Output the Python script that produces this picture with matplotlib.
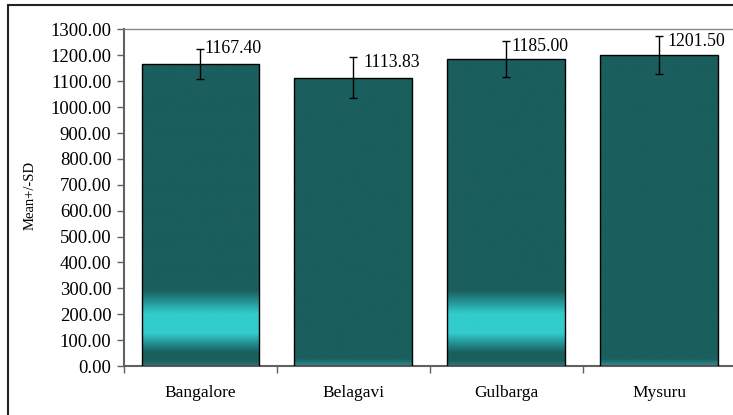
import numpy as np
import matplotlib
matplotlib.use("Agg")
import matplotlib.pyplot as plt
from matplotlib.colors import LinearSegmentedColormap
from matplotlib.patches import Rectangle

plt.rcParams['font.family'] = ['Liberation Serif', 'DejaVu Serif']

# data
regions = ['Bangalore', 'Belagavi', 'Gulbarga', 'Mysuru']
means = [1167.40, 1113.83, 1185.00, 1201.50]
sds = [57, 80, 69, 72]
glow = [True, False, True, False]   # bars with the bright cyan band near the bottom
label_offsets = [(4, 1), (10, -6), (5, -5), (8, -5)]  # pixel nudges for value labels

dark = '#1b5e5e'
mid = '#2a8a8a'
cyan = '#33cccc'

# gradient along the value axis (value, colour)
glow_stops = [(0, '#257777'), (20, dark), (50, dark), (85, '#239191'), (125, cyan),
              (200, cyan), (240, '#279a9a'), (290, dark), (1300, dark)]
plain_stops = [(0, mid), (25, dark), (1300, dark)]


def make_cmap(stops, name):
    top = stops[-1][0]
    return LinearSegmentedColormap.from_list(name, [(v / top, c) for v, c in stops])


fig = plt.figure(figsize=(7.33, 4.15), dpi=100)
ax = fig.add_axes([124 / 733, 1 - 366 / 415, 611.5 / 733, (366 - 29.5) / 415])

x = np.arange(len(regions))
width = 0.77
bars = ax.bar(x, means, width=width, color='none', edgecolor='black', linewidth=1, zorder=3)

for i, b in enumerate(bars):
    stops = glow_stops if glow[i] else plain_stops
    cmap = make_cmap(stops, 'g%d' % i)
    h = means[i]
    vals = np.linspace(0, h, 1024) / stops[-1][0]
    im = ax.imshow(vals.reshape(-1, 1), cmap=cmap, vmin=0, vmax=1, aspect='auto',
                   origin='lower', extent=[b.get_x(), b.get_x() + b.get_width(), 0, h],
                   zorder=2, interpolation='bilinear')
    im.set_clip_path(b)

ax.errorbar(x, means, yerr=sds, fmt='none', ecolor='black', elinewidth=1,
            capsize=3, capthick=1, zorder=4)

for i in range(len(regions)):
    dx, dy = label_offsets[i]
    ax.annotate('%.2f' % means[i], xy=(x[i], means[i] + sds[i]), xytext=(dx, dy),
                textcoords='offset pixels', ha='left', va='center', fontsize=12.8, zorder=5)

ax.set_xlim(-0.5, 3.5)
ax.set_ylim(0, 1300)
ax.set_yticks(np.arange(0, 1301, 100))
ax.set_yticklabels(['%.2f' % v for v in np.arange(0, 1301, 100)], fontsize=13.5)
ax.set_xticks(x)
ax.set_xticklabels(regions, fontsize=12.5)
ax.set_xticks(np.arange(-0.5, 3.6, 1), minor=True)
ax.tick_params(axis='x', which='major', length=0, pad=13.5)
ax.tick_params(axis='x', which='minor', length=5, width=1, color='#606060', direction='out')
ax.tick_params(axis='y', length=5, width=1, color='#606060', direction='out', pad=4)

for s in ['left', 'bottom']:
    ax.spines[s].set_color('#606060')
    ax.spines[s].set_linewidth(1.5)
ax.spines['top'].set_color('#888888')
ax.spines['top'].set_linewidth(1)
ax.spines['right'].set_visible(False)

fig.text(30 / 733, 1 - 195 / 415, 'Mean+/-SD', rotation=90, ha='center', va='center', fontsize=10.5)

# outer frame, cut off on the right and bottom like the reference
fig.patches.append(Rectangle((7.5 / 733, -0.1), 1.2, 1 - 5.5 / 415 + 0.1,
                             transform=fig.transFigure, fill=False,
                             edgecolor='#222222', linewidth=1.5))

fig.savefig('out.png', dpi=100)
